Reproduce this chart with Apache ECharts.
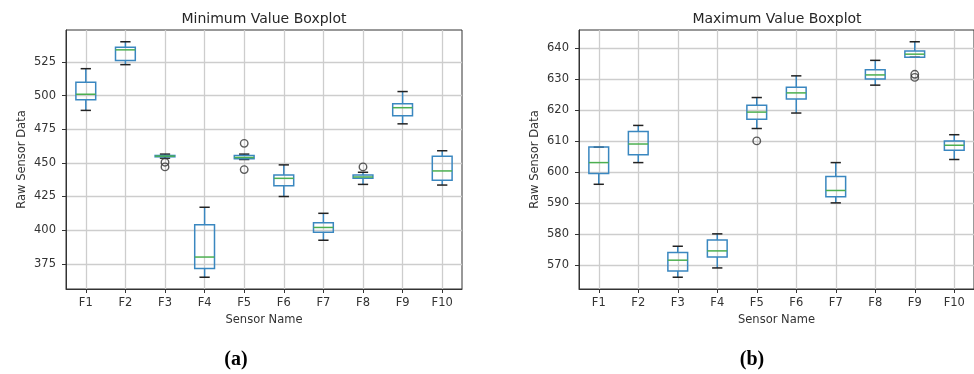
<!DOCTYPE html>
<html>
<head>
<meta charset="utf-8">
<script src="https://cdn.jsdelivr.net/npm/echarts@6/dist/echarts.min.js"></script>
<style>
  html, body { margin: 0; padding: 0; background: #fff; }
  #chart { width: 974px; height: 374px; }
</style>
</head>
<body>
<div id="chart"></div>
<script>
// ---------- data ----------
const categories = ['F1', 'F2', 'F3', 'F4', 'F5', 'F6', 'F7', 'F8', 'F9', 'F10'];

// (a) Minimum Value Boxplot
const minLow  = [489, 523, 453.5, 365, 452.5, 425, 392.5, 434, 479, 433.5];
const minQ1   = [497, 526, 454.5, 371.5, 453, 433, 398.5, 438.5, 485, 437];
const minMed  = [501, 534, 455, 380, 454, 438.5, 402, 439.5, 491, 444];
const minQ3   = [510, 536, 455.5, 404, 455.5, 441, 405.5, 441, 494, 455];
const minHigh = [520, 540, 456.5, 417, 456.5, 448.5, 412.5, 443, 503, 459];
const minOutliers = [['F3', 450.5], ['F3', 447], ['F5', 464.5], ['F5', 445], ['F8', 447]];
const minTicks = [375, 400, 425, 450, 475, 500, 525];

// (b) Maximum Value Boxplot
const maxLow  = [596, 603, 566, 569, 614, 619, 590, 628, 637, 604];
const maxQ1   = [599.5, 605.5, 568, 572.5, 617, 623.5, 592, 630, 637, 607];
const maxMed  = [603, 609, 571.5, 574.5, 619.3, 625.5, 594, 631.3, 638, 608.6];
const maxQ3   = [608, 613, 574, 578, 621.5, 627.3, 598.5, 633, 639, 610];
const maxHigh = [608, 615, 576, 580, 624, 631, 603, 636, 642, 612];
const maxOutliers = [['F5', 610], ['F9', 631.5], ['F9', 630.5]];
const maxTicks = [570, 580, 590, 600, 610, 620, 630, 640];

const xTicks = categories.map((c, i) => i + 1);

// ---------- helpers ----------
function boxData(low, q1, med, q3, high) {
  return categories.map((c, i) => [i + 1, low[i], q1[i], med[i], q3[i], high[i]]);
}
function outlierData(list) {
  return list.map(o => [categories.indexOf(o[0]) + 1, o[1]]);
}
function extentOf(low, high, outl) {
  const vals = low.concat(high, outl.map(o => o[1]));
  const lo = Math.min.apply(null, vals), hi = Math.max.apply(null, vals);
  const pad = (hi - lo) * 0.05;
  return [lo - pad, hi + pad];
}

const BLUE = '#3a87c0', GREEN = '#4caf50', CAP = '#222';
function renderBox(params, api) {
  const x = api.value(0);
  const band = api.size([1, 0])[0];
  const hb = band * 0.25, hc = band * 0.13;
  const pL = api.coord([x, api.value(1)]);
  const p1 = api.coord([x, api.value(2)]);
  const pM = api.coord([x, api.value(3)]);
  const p3 = api.coord([x, api.value(4)]);
  const pH = api.coord([x, api.value(5)]);
  const cx = pM[0];
  const lw = 1.5;
  return {
    type: 'group',
    children: [
      { type: 'line', shape: { x1: cx, y1: p3[1], x2: cx, y2: pH[1] }, style: { stroke: BLUE, lineWidth: lw } },
      { type: 'line', shape: { x1: cx, y1: p1[1], x2: cx, y2: pL[1] }, style: { stroke: BLUE, lineWidth: lw } },
      { type: 'line', shape: { x1: cx - hc, y1: pH[1], x2: cx + hc, y2: pH[1] }, style: { stroke: CAP, lineWidth: lw } },
      { type: 'line', shape: { x1: cx - hc, y1: pL[1], x2: cx + hc, y2: pL[1] }, style: { stroke: CAP, lineWidth: lw } },
      { type: 'rect', shape: { x: cx - hb, y: p3[1], width: hb * 2, height: p1[1] - p3[1] }, style: { fill: 'none', stroke: BLUE, lineWidth: lw } },
      { type: 'line', shape: { x1: cx - hb, y1: pM[1], x2: cx + hb, y2: pM[1] }, style: { stroke: GREEN, lineWidth: lw } }
    ]
  };
}

const FONT = 'DejaVu Sans';
const TXT = '#333';
const GRIDC = '#cdcdcd';

function xAxisCfg(gridIndex) {
  return {
    type: 'value', gridIndex: gridIndex, min: 0.5, max: 10.5,
    name: 'Sensor Name', nameLocation: 'middle', nameGap: 24,
    nameTextStyle: { fontFamily: FONT, fontSize: 11.5, color: TXT },
    axisLine: { show: true, onZero: false, lineStyle: { color: '#333', width: 1 } },
    axisTick: { show: true, customValues: xTicks, length: 4, lineStyle: { color: '#333' } },
    axisLabel: { customValues: xTicks, margin: 8, fontFamily: FONT, fontSize: 11.5, color: TXT,
                 formatter: v => categories[Math.round(v) - 1] || '' },
    splitLine: { show: true, lineStyle: { color: GRIDC, width: 1.3 } }
  };
}
function yAxisCfg(gridIndex, ext, ticks) {
  return {
    type: 'value', gridIndex: gridIndex, min: ext[0], max: ext[1],
    name: 'Raw Sensor Data', nameLocation: 'middle', nameGap: 38,
    nameTextStyle: { fontFamily: FONT, fontSize: 11.5, color: TXT },
    axisLine: { show: true, onZero: false, lineStyle: { color: '#333', width: 1 } },
    axisTick: { show: true, customValues: ticks, length: 4, lineStyle: { color: '#333' } },
    axisLabel: { customValues: ticks, margin: 10, fontFamily: FONT, fontSize: 11.5, color: TXT },
    splitLine: { show: true, lineStyle: { color: GRIDC, width: 1.3 } }
  };
}

const extA = extentOf(minLow, minHigh, minOutliers);
const extB = extentOf(maxLow, maxHigh, maxOutliers);

const chart = echarts.init(document.getElementById('chart'), null, { renderer: 'canvas' });
chart.setOption({
  animation: false,
  backgroundColor: '#fff',
  grid: [
    { left: 66, top: 30, width: 396, height: 259, show: true, borderColor: '#333', borderWidth: 1, backgroundColor: 'transparent' },
    { left: 579, top: 30, width: 397, height: 259, show: true, borderColor: '#333', borderWidth: 1, backgroundColor: 'transparent' }
  ],
  xAxis: [xAxisCfg(0), xAxisCfg(1)],
  yAxis: [yAxisCfg(0, extA, minTicks), yAxisCfg(1, extB, maxTicks)],
  graphic: [
    { type: 'text', x: 264, y: 19, style: { text: 'Minimum Value Boxplot', font: '14px "DejaVu Sans"', fill: '#262626', align: 'center', verticalAlign: 'middle' } },
    { type: 'text', x: 777, y: 19, style: { text: 'Maximum Value Boxplot', font: '14px "DejaVu Sans"', fill: '#262626', align: 'center', verticalAlign: 'middle' } },
    { type: 'text', x: 236, y: 360, style: { text: '(a)', font: 'bold 20px "Liberation Serif"', fill: '#000', align: 'center', verticalAlign: 'middle' } },
    { type: 'text', x: 752, y: 360, style: { text: '(b)', font: 'bold 20px "Liberation Serif"', fill: '#000', align: 'center', verticalAlign: 'middle' } }
  ],
  series: [
    { type: 'custom', xAxisIndex: 0, yAxisIndex: 0, renderItem: renderBox,
      encode: { x: 0, y: [1, 2, 3, 4, 5] }, data: boxData(minLow, minQ1, minMed, minQ3, minHigh), z: 3 },
    { type: 'scatter', xAxisIndex: 0, yAxisIndex: 0, symbol: 'circle', symbolSize: 7.5,
      itemStyle: { color: 'rgba(0,0,0,0)', borderColor: '#333', borderWidth: 1.4 },
      data: outlierData(minOutliers), z: 4 },
    { type: 'custom', xAxisIndex: 1, yAxisIndex: 1, renderItem: renderBox,
      encode: { x: 0, y: [1, 2, 3, 4, 5] }, data: boxData(maxLow, maxQ1, maxMed, maxQ3, maxHigh), z: 3 },
    { type: 'scatter', xAxisIndex: 1, yAxisIndex: 1, symbol: 'circle', symbolSize: 7.5,
      itemStyle: { color: 'rgba(0,0,0,0)', borderColor: '#333', borderWidth: 1.4 },
      data: outlierData(maxOutliers), z: 4 }
  ]
});
</script>
</body>
</html>
